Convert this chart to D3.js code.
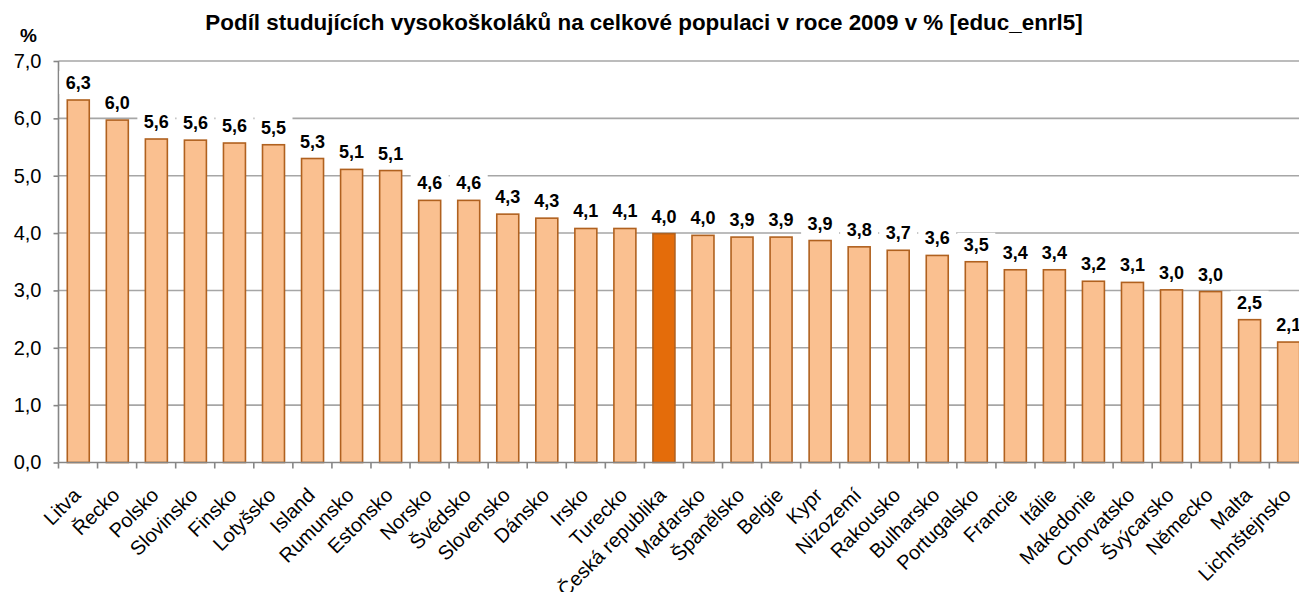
<!DOCTYPE html>
<html>
<head>
<meta charset="utf-8">
<script src="https://cdn.jsdelivr.net/npm/d3@7"></script>
<style>
  body { margin: 0; background: #fff; }
  svg { font-family: "Liberation Sans", Arial, sans-serif; display: block; }
</style>
</head>
<body>
<svg width="1299" height="592"></svg>
<script>
// data
let countries = ["Litva", "Řecko", "Polsko", "Slovinsko", "Finsko", "Lotyšsko", "Island", "Rumunsko",
    "Estonsko", "Norsko", "Švédsko", "Slovensko", "Dánsko", "Irsko", "Turecko", "Česká republika",
    "Maďarsko", "Španělsko", "Belgie", "Kypr", "Nizozemí", "Rakousko", "Bulharsko", "Portugalsko",
    "Francie", "Itálie", "Makedonie", "Chorvatsko", "Švýcarsko", "Německo", "Malta", "Lichnštejnsko"];
let shares = [6.32, 5.97, 5.64, 5.62, 5.57, 5.54, 5.30, 5.11, 5.09, 4.57, 4.57, 4.33, 4.26, 4.08, 4.08, 3.99,
    3.96, 3.93, 3.93, 3.87, 3.76, 3.70, 3.61, 3.50, 3.36, 3.36, 3.16, 3.14, 3.01, 2.98, 2.49, 2.10];
let highlight = "Česká republika";
let yTicks = [0, 1, 2, 3, 4, 5, 6, 7];

let plotLeft = 58.5, plotTop = 61, plotBottom = 462.5;
let step = 39.06;

var svg = d3.select("svg");

let x = d3.scaleBand()
    .domain(countries)
    .range([plotLeft, plotLeft + step * countries.length])
    .paddingInner(0.437)
    .paddingOuter(0.225);

let y = d3.scaleLinear()
    .domain([0, 7])
    .range([plotBottom, plotTop]);

let fmt = v => v.toFixed(1).replace(".", ",");

// title
svg.append("text")
    .attr("x", 644)
    .attr("y", 30)
    .attr("text-anchor", "middle")
    .attr("font-size", "22.4px")
    .attr("font-weight", "bold")
    .text("Podíl studujících vysokoškoláků na celkové populaci v roce 2009 v % [educ_enrl5]");

svg.append("text")
    .attr("x", 28.5)
    .attr("y", 42)
    .attr("text-anchor", "middle")
    .attr("font-size", "19px")
    .attr("font-weight", "bold")
    .text("%");

// gridlines
svg.append("g")
    .selectAll("line")
    .data(yTicks.filter(d => d > 0))
    .enter()
    .append("line")
    .attr("x1", plotLeft)
    .attr("x2", 1299)
    .attr("y1", d => y(d))
    .attr("y2", d => y(d))
    .attr("stroke", "#a6a6a6")
    .attr("stroke-width", 1.6);

// y axis
let yAxis = svg.append("g")
    .attr("transform", `translate(${plotLeft},0)`)
    .call(d3.axisLeft(y).tickValues(yTicks).tickSize(5).tickPadding(12).tickFormat(fmt));
yAxis.selectAll("text").attr("font-size", "20px").attr("fill", "#000").attr("font-family", "Liberation Sans, Arial, sans-serif");
yAxis.selectAll("line").attr("stroke", "#868686").attr("stroke-width", 1.6);
yAxis.select(".domain").attr("stroke", "#868686").attr("stroke-width", 1.6).attr("d", `M0,${plotTop}V${plotBottom}`);

// bars
svg.append("g")
    .selectAll("rect")
    .data(countries)
    .enter()
    .append("rect")
    .attr("x", d => x(d))
    .attr("y", (d, i) => y(shares[i]))
    .attr("width", x.bandwidth())
    .attr("height", (d, i) => plotBottom - y(shares[i]))
    .attr("fill", d => d === highlight ? "#e46c0a" : "#fac090")
    .attr("stroke", "#b0611f")
    .attr("stroke-width", 1.6);

// x axis
let xAxis = svg.append("g")
    .attr("transform", `translate(0,${plotBottom})`);
xAxis.append("line")
    .attr("x1", plotLeft)
    .attr("x2", 1299)
    .attr("stroke", "#868686")
    .attr("stroke-width", 1.6);
xAxis.selectAll(".tick")
    .data(d3.range(countries.length + 1))
    .enter()
    .append("line")
    .attr("x1", i => plotLeft + i * step)
    .attr("x2", i => plotLeft + i * step)
    .attr("y1", 0)
    .attr("y2", 6)
    .attr("stroke", "#868686")
    .attr("stroke-width", 1.6);

// category labels
svg.append("g")
    .selectAll("text")
    .data(countries)
    .enter()
    .append("text")
    .attr("transform", d => `translate(${x(d) + x.bandwidth() / 2 + 3.5},${plotBottom + 34}) rotate(-45)`)
    .attr("text-anchor", "end")
    .attr("font-size", "20px")
    .text(d => d);

// value labels with white background
let labels = svg.append("g")
    .selectAll("g")
    .data(countries)
    .enter()
    .append("g")
    .attr("transform", (d, i) => `translate(${x(d) + x.bandwidth() / 2},${y(shares[i]) - 11})`);
labels.append("rect")
    .attr("x", -19)
    .attr("y", -18)
    .attr("width", 38)
    .attr("height", 23)
    .attr("fill", "#fff");
labels.append("text")
    .attr("text-anchor", "middle")
    .attr("font-size", "18px")
    .attr("font-weight", "bold")
    .text((d, i) => fmt(shares[i]));
</script>
</body>
</html>
